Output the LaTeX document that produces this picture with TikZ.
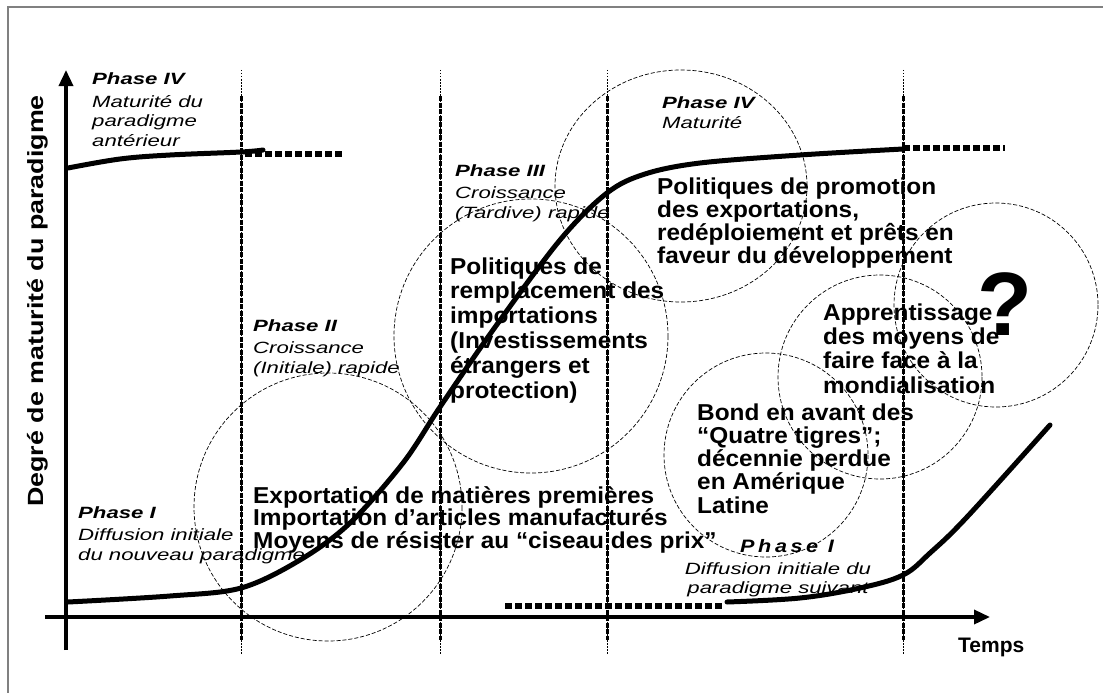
\documentclass[tikz,border=0pt]{standalone}
\usepackage{fontspec}
\setmainfont{Liberation Sans}
\newfontfamily\bigfont[FakeStretch=1.06]{Liberation Sans}
\newfontfamily\smallfont[FakeStretch=1.36]{Liberation Sans}
\newfontfamily\axisfont[FakeStretch=1.22]{Liberation Sans}
\newfontfamily\spacedfont[FakeStretch=1.2,LetterSpace=20]{Liberation Sans}
\usetikzlibrary{arrows.meta}
\definecolor{framegray}{RGB}{128,128,128}
\tikzstyle{policy} = [anchor=base west, inner sep=0pt, align=left, text=black]
\tikzstyle{phase} = [anchor=base west, inner sep=0pt, align=left, font=\smallfont\itshape\fontsize{16.3}{19.5}\selectfont]
\tikzstyle{wave} = [draw, line width=0.7pt, dash pattern=on 4pt off 2pt]
\tikzstyle{trend} = [line width=5pt, line cap=round, line join=round]
\tikzstyle{ext} = [line width=6pt, dash pattern=on 7pt off 3pt]
\tikzstyle{axis} = [line width=3.5pt, -{Triangle[length=16pt,width=14pt]}]
\tikzstyle{thinmark} = [line width=1pt, dash pattern=on 1.5pt off 1.5pt]
\tikzstyle{thickmark} = [line width=3pt, dash pattern=on 5pt off 1.5pt]

\begin{document}
\begin{tikzpicture}[x=1pt, y=-1pt]
\useasboundingbox (0,0) rectangle (1103,693);
\draw[framegray, line width=1.5pt] (1103,7) -- (8,7) -- (8,693);

% phase boundaries =============================
\foreach \bx in {241,440,607,903} {
  \draw[thinmark] (\bx,70) -- (\bx,655);
  \draw[thickmark] (\bx,96) -- (\bx,640);
}

% axes
\draw[axis] (66,650) -- (66,70);
\draw[axis] (45,617) -- (990,617);
\node[rotate=90, anchor=base, inner sep=0pt, font=\axisfont\bfseries\fontsize{22}{22}\selectfont] (yname) at (43,301) {Degré de maturité du paradigme};
\node[anchor=base west, inner sep=0pt, font=\bfseries\fontsize{21}{21}\selectfont] (tname) at (958,652) {Temps};

% waves
\draw[wave] (328,507) circle[radius=134];
\draw[wave] (531,336) circle[radius=137];
\draw[wave] (681,186) ellipse[x radius=126, y radius=116];
\draw[wave] (996,305) circle[radius=102];
\draw[wave] (766,455) circle[radius=102];
\draw[wave] (880,377) circle[radius=102];

% curves
\draw[trend] plot[smooth, tension=0.6] coordinates {(68,168) (120,159) (170,155) (241,152) (263,150)};
\draw[ext] (245,154) -- (345,154);
\draw[trend] plot[smooth, tension=0.55] coordinates {(68,602) (170,596) (241,588) (300,560) (350,523) (403,463) (440,407) (493,330) (560,240) (607,193) (645,174) (700,163) (800,155) (903,149)};
\draw[ext] (903,148) -- (1005,148);
\draw[ext] (505,606) -- (725,606);
\draw[trend] plot[smooth, tension=0.6] coordinates {(727,602) (800,598) (860,588) (903,575) (930,553) (967,517) (1050,425)};

% phases
\node[phase] (ph4a) at (92,146) {{\bfseries Phase IV}\\[3pt]Maturité du\\paradigme\\antérieur};
\node[phase] (ph1) at (78,560) {{\bfseries Phase I}\\[3pt]Diffusion initiale\\du nouveau paradigme};
\node[phase] (ph2) at (253,373) {{\bfseries Phase II}\\[3pt]Croissance\\(Initiale) rapide};
\node[phase] (ph3) at (455,218) {{\bfseries Phase III}\\[3pt]Croissance\\(Tardive) rapide};
\node[phase] (ph4) at (662,128) {{\bfseries Phase IV}\\Maturité};
\node[anchor=base west, inner sep=0pt, font=\spacedfont\bfseries\itshape\fontsize{18}{18}\selectfont] (ph1b) at (740,552) {Phase I};
\node[phase, anchor=base, align=center, font=\smallfont\itshape\fontsize{16.3}{18.5}\selectfont] (ph1bdesc) at (778,593) {Diffusion initiale du\\paradigme suivant};

% policies
\node[policy, font=\bigfont\bfseries\fontsize{23}{22.5}\selectfont] (exports) at (253,548) {Exportation de matières premières\\Importation d’articles manufacturés\\Moyens de résister au “ciseau des prix”};
\node[policy, font=\bigfont\bfseries\fontsize{23}{24.8}\selectfont] (substitution) at (450,398) {Politiques de\\remplacement des\\importations\\(Investissements\\étrangers et\\protection)};
\node[policy, font=\bigfont\bfseries\fontsize{23}{22.7}\selectfont] (promotion) at (657,263) {Politiques de promotion\\des exportations,\\redéploiement et prêts en\\faveur du développement};
\node[policy, font=\bigfont\bfseries\fontsize{23}{24.3}\selectfont] (learning) at (823,393) {Apprentissage\\des moyens de\\faire face à la\\mondialisation};
\node[policy, font=\bigfont\bfseries\fontsize{23}{23.2}\selectfont] (tigers) at (697,513) {Bond en avant des\\“Quatre tigres”;\\décennie perdue\\en Amérique\\Latine};
\node[anchor=base, inner sep=0pt, font=\bfseries\fontsize{90}{90}\selectfont] (question) at (1005,335) {?};

\end{tikzpicture}
\end{document}
